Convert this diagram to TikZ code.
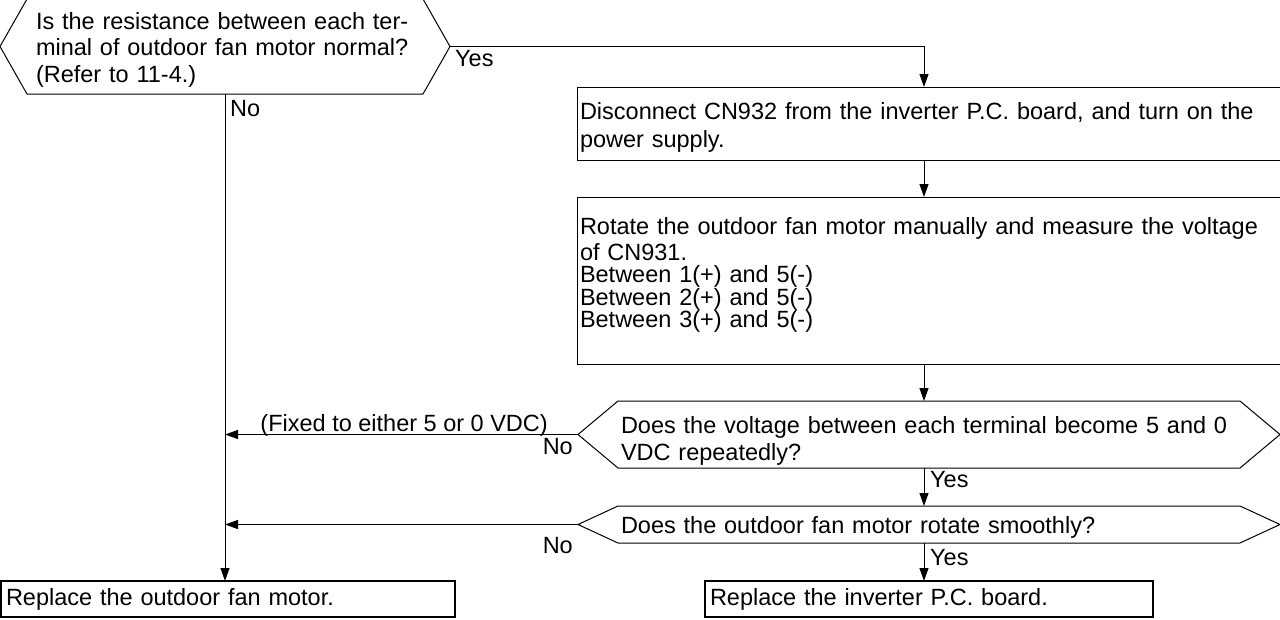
\documentclass[tikz,border=0pt]{standalone}
\usepackage{fontspec}
\setmainfont{Liberation Sans}
\usetikzlibrary{arrows.meta,calc,positioning}

\newcommand{\DrawHex}[2]{%
  \draw[line width=1pt] (#1.north west) -- (#1.north east)
    -- ($(#1.east)+(#2,0)$) coordinate (#1-e)
    -- (#1.south east) -- (#1.south west)
    -- ($(#1.west)-(#2,0)$) coordinate (#1-w) -- cycle;}

\begin{document}
\begin{tikzpicture}[x=1pt,y=-1pt,
  font=\fontsize{23.5}{26.5}\selectfont,
  decnode/.style={rectangle,inner xsep=3pt,inner ysep=0pt,outer sep=0pt,align=left},
  stepbox/.style={draw,line width=1pt,rectangle,inner xsep=3pt,inner ysep=0pt,outer sep=0pt,align=left},
  stopbox/.style={draw,line width=2pt,rectangle,inner xsep=5pt,inner ysep=0pt,outer sep=0pt,align=left},
  dropby/.style={execute at begin node={\rule{0pt}{#1}}},
  flowarrow/.style={line width=1pt,-{Triangle[length=13pt,width=9pt]}},
  answer/.style={inner sep=0pt}]
\useasboundingbox (0,0) rectangle (1280,619);

\coordinate (trunk) at (225,0);
\coordinate (main) at (924,0);

\node[decnode,minimum width=396pt,minimum height=95pt,text width=378pt,inner xsep=9pt,dropby=23pt] (q1) at (225,46.5)
  {Is the resistance between each ter-\\minal of outdoor fan motor normal?\\(Refer to 11-4.)};
\DrawHex{q1}{27}

\node[stepbox,minimum width=715pt,minimum height=73pt,text width=709pt,
  font=\fontsize{23.5}{28}\selectfont,dropby=25pt] (s1) at (934.5,123.5)
  {Disconnect CN932 from the inverter P.C. board, and turn on the\\power supply.};
\node[stepbox,minimum width=715pt,minimum height=167pt,text width=709pt,
  font=\fontsize{23.5}{22.5}\selectfont] (s2) at (934.5,280.5)
  {Rotate the outdoor fan motor manually and measure the voltage\\[3pt]of CN931.\\Between 1(+) and 5(-)\\Between 2(+) and 5(-)\\Between 3(+) and 5(-)\rule[-15.5pt]{0pt}{15.5pt}};

\node[decnode,minimum width=622pt,minimum height=67pt,text width=616pt,
  font=\fontsize{23.5}{27}\selectfont,dropby=30pt] (q2) at (929,434.5)
  {Does the voltage between each terminal become 5 and 0\\VDC repeatedly?};
\DrawHex{q2}{40}
\node[decnode,minimum width=622pt,minimum height=37pt,text width=616pt,dropby=23pt] (q3) at (929,524.5)
  {Does the outdoor fan motor rotate smoothly?};
\DrawHex{q3}{40}

\node[stopbox,minimum width=454pt,minimum height=36pt,text width=444pt] (r1) at (228,599) {Replace the outdoor fan motor.};
\node[stopbox,minimum width=448pt,minimum height=36pt,text width=438pt] (r2) at (929,599) {Replace the inverter P.C. board.};

\draw[flowarrow] (q1-e) -| (s1.north -| main);
\draw[flowarrow] (s1.south -| main) -- (s2.north -| main);
\draw[flowarrow] (s2.south -| main) -- (q2.north -| main);
\draw[flowarrow] (q2.south -| main) -- (q3.north -| main);
\draw[flowarrow] (q3.south -| main) -- (r2.north -| main);
\draw[flowarrow] (q1.south -| trunk) -- (r1.north -| trunk);
\draw[flowarrow] (q2-w) -- (q2-w -| trunk);
\draw[flowarrow] (q3-w) -- (q3-w -| trunk);

\node[answer,anchor=north west] (yes1) at ($(q1-e)+(5,4)$) {Yes};
\node[answer,anchor=north west] (no1) at ($(q1.south -| trunk)+(5,6)$) {No};
\node[answer,anchor=north west] (yes2) at ($(q2.south -| main)+(6,3)$) {Yes};
\node[answer,anchor=north west] (yes3) at ($(q3.south -| main)+(6,6)$) {Yes};
\node[answer,anchor=north east] (no2) at ($(q2-w)+(-5,4)$) {No};
\node[answer,anchor=north east] (no3) at ($(q3-w)+(-5,13)$) {No};
\node[answer,anchor=base east] (fixed) at ($(q2-w)+(-30,-3)$) {(Fixed to either 5 or 0 VDC)};
\end{tikzpicture}
\end{document}
